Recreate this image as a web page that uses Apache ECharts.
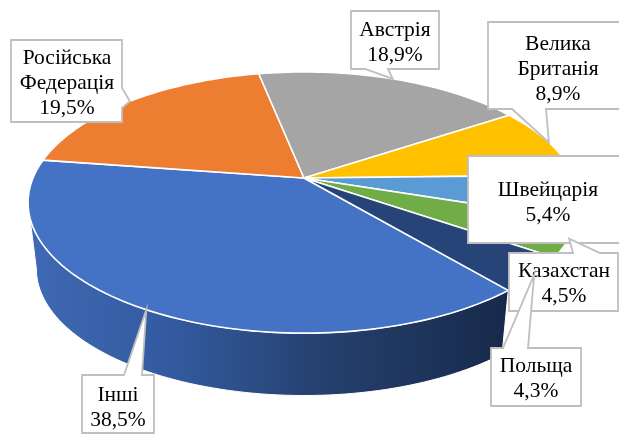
<!DOCTYPE html>
<html>
<head>
<meta charset="utf-8">
<style>
html, body { margin: 0; padding: 0; background: #fff; }
#chart { width: 619px; height: 437px; }
</style>
<script src="https://cdn.jsdelivr.net/npm/echarts@6/dist/echarts.min.js"></script>
</head>
<body>
<div id="chart"></div>
<script>
// data
const categories = ['Інші', 'Російська\nФедерація', 'Австрія', 'Велика\nБританія', 'Швейцарія', 'Казахстан', 'Польща'];
const shares = [38.5, 19.5, 18.9, 8.9, 5.4, 4.5, 4.3];

// styles, one per slice
const topColors = ['#4472c4', '#ed7d31', '#a5a5a5', '#ffc000', '#5b9bd5', '#70ad47', '#264478'];
const wallColors = [
  [[0, '#3f69b4'], [0.3, '#335a9f'], [0.6, '#26416f'], [1, '#17294a']],
  [[0, '#8a4a1d'], [1, '#8a4a1d']],
  [[0, '#636363'], [1, '#636363']],
  [[0, '#997300'], [1, '#997300']],
  [[0, '#2e75b6'], [1, '#2e75b6']],
  [[0, '#37602a'], [1, '#2f5320']],
  [[0, '#15284a'], [1, '#0f1e3a']]
];

// label layout, one per slice
const boxes = [
  { left: 82, top: 375, right: 154, bottom: 433, textX: 118, textY: 408, base: [[124, 375], [142, 375]] },
  { left: 11, top: 40, right: 122, bottom: 122, textX: 67, textY: 83, base: [[122, 88], [122, 108]] },
  { left: 351, top: 11, right: 439, bottom: 69, textX: 395, textY: 43, base: [[365, 69], [388, 69]] },
  { left: 488, top: 22, right: 625, bottom: 109, textX: 558, textY: 69, base: [[512, 109], [546, 109]] },
  { left: 468, top: 156, right: 625, bottom: 243, textX: 548, textY: 203, base: null },
  { left: 509, top: 253, right: 618, bottom: 311, textX: 564, textY: 284, base: [[573, 253], [600, 253]] },
  { left: 491, top: 348, right: 581, bottom: 406, textX: 536, textY: 379, base: [[503, 348], [528, 348]] }
];

// pie geometry: apex, radii and perspective factor of the disc
const apex = [304, 178];
const radiusX = 271;
const radiusY = 126;
const tilt = 0.188;
const firstAngle = 139.8;
const wallScale = 0.97;
const wallDrop = 67;
// the side wall only shows between the two tangent points of the rim
const wallFrom = Math.acos(-tilt) * 180 / Math.PI;
const wallTo = 360 - wallFrom;

const total = shares.reduce((a, b) => a + b, 0);
const sliceStart = [];
shares.reduce((acc, v, i) => {
  sliceStart[i] = acc;
  return acc + v / total * 360;
}, firstAngle);

// degrees clockwise from top -> point on the tilted disc
const rimPoint = (deg) => {
  const rad = deg * Math.PI / 180;
  const x = Math.sin(rad);
  const y = -Math.cos(rad);
  const w = 1 - tilt * y;
  return [apex[0] + radiusX * x / w, apex[1] + radiusY * y / w];
};
const arcPoints = (from, to) => {
  const list = [];
  const steps = Math.max(2, Math.ceil((to - from) / 1.5));
  for (let i = 0; i <= steps; i++) list.push(rimPoint(from + (to - from) * i / steps));
  return list;
};
const sliceRange = (i) => [sliceStart[i], sliceStart[i] + shares[i] / total * 360];

const renderWall = (params) => {
  const i = params.dataIndex;
  const [a, b] = sliceRange(i);
  const from = Math.max(a, wallFrom);
  const to = Math.min(b, wallTo);
  if (to <= from) return null;
  const upper = arcPoints(from, to);
  const lower = upper.map((p) => [
    apex[0] + (p[0] - apex[0]) * wallScale,
    apex[1] + (p[1] - apex[1]) * wallScale + wallDrop
  ]).reverse();
  const stops = wallColors[i].map((s) => ({ offset: s[0], color: s[1] }));
  return {
    type: 'polygon',
    shape: { points: upper.concat(lower) },
    style: { fill: new echarts.graphic.LinearGradient(30, 0, 510, 0, stops, true), stroke: '#fff', lineWidth: 1 }
  };
};

const renderTop = (params) => {
  const i = params.dataIndex;
  const [a, b] = sliceRange(i);
  return {
    type: 'polygon',
    shape: { points: [apex].concat(arcPoints(a, b)) },
    style: { fill: topColors[i], stroke: '#fff', lineWidth: 1.6, lineJoin: 'round' }
  };
};

// box corners clockwise, with the pointer put in on the edge its base sits on
const boxOutline = (box, tip) => {
  const { left, top, right, bottom, base } = box;
  const pts = [[left, top]];
  if (base && base[0][1] === top) pts.push(base[0], tip, base[1]);
  pts.push([right, top]);
  if (base && base[0][0] === right) pts.push(base[0], tip, base[1]);
  pts.push([right, bottom]);
  if (base && base[0][1] === bottom) pts.push(base[1], tip, base[0]);
  pts.push([left, bottom]);
  return pts;
};

const renderLabel = (params) => {
  const i = params.dataIndex;
  const [a, b] = sliceRange(i);
  const tip = rimPoint((a + b) / 2);
  const box = boxes[i];
  return {
    type: 'group',
    children: [
      {
        type: 'polygon',
        shape: { points: boxOutline(box, tip) },
        style: { fill: '#fff', stroke: '#bfbfbf', lineWidth: 1.8 }
      },
      {
        type: 'text',
        style: {
          text: categories[i] + '\n' + String(shares[i]).replace('.', ',') + '%',
          x: box.textX,
          y: box.textY,
          align: 'center',
          verticalAlign: 'middle',
          font: '21.5px "Liberation Serif"',
          lineHeight: 25,
          fill: '#000'
        }
      }
    ]
  };
};

const chart = echarts.init(document.getElementById('chart'));
const sliceData = shares.map((v, i) => [i, v]);
chart.setOption({
  animation: false,
  series: [
    { type: 'custom', coordinateSystem: 'none', renderItem: renderWall, data: sliceData, silent: true, z: 1 },
    { type: 'custom', coordinateSystem: 'none', renderItem: renderTop, data: sliceData, silent: true, z: 2 },
    { type: 'custom', coordinateSystem: 'none', renderItem: renderLabel, data: sliceData, silent: true, z: 3 }
  ]
});
</script>
</body>
</html>
